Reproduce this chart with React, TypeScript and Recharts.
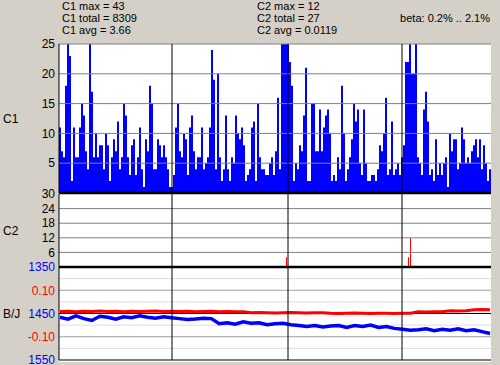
import { Bar, BarChart, Line, LineChart, ReferenceLine, XAxis, YAxis } from "recharts";

// one value per displayed sample column (216 columns across the plot)
const C1 = [
  11, 7, 6, 18, 25, 23, 2, 11, 6, 6, 11, 15, 13, 7, 4, 25, 17, 6, 10, 6,
  8, 8, 4, 10, 8, 2, 6, 9, 7, 12, 4, 6, 15, 13, 6, 3, 8, 9, 3, 6,
  11, 4, 1, 9, 7, 18, 15, 4, 4, 9, 8, 6, 8, 6, 4,
  1, 1, 3, 11, 15, 7, 6, 10, 9, 3, 11, 13, 7, 4, 6, 6, 11, 4, 5, 6,
  11, 24, 19, 4, 20, 6, 2, 4, 13, 4, 2, 6, 5, 13, 10, 9, 11, 8, 2, 3,
  4, 11, 12, 2, 15, 6, 4, 4, 3, 3, 5, 6, 3,
  7, 16, 4, 28, 35, 43, 30, 22, 18, 2, 5, 4, 8, 7, 13, 21, 2, 2, 15, 15,
  7, 7, 14, 7, 11, 13, 14, 10, 2, 3, 2, 6, 4, 18, 10, 2, 4, 6, 9, 15,
  12, 14, 5, 3, 14, 5, 2, 2, 3, 3, 2, 4, 8, 7,
  10, 16, 3, 4, 12, 3, 4, 5, 3, 6, 8, 22, 22, 28, 20, 20, 27, 6, 5, 3,
  14, 17, 12, 3, 4, 2, 9, 3, 5, 3, 5, 6, 1, 10, 7, 9, 9, 4, 5, 11,
  9, 5, 6, 5, 7, 8, 9, 6, 9, 4, 8, 5, 2, 4,
];

// [column, value]
const C2_SPIKES = [
  [113, 4],
  [174, 4],
  [175, 12],
];

const BJ_B = [
  1458, 1462, 1455, 1461, 1465, 1456, 1458, 1462, 1457, 1459,
  1455, 1458, 1460, 1457, 1459, 1461, 1463, 1462, 1460, 1461,
  1472, 1470, 1473, 1468, 1471, 1470, 1474, 1472, 1471, 1474,
  1476, 1478, 1476, 1479, 1477, 1476, 1480, 1476, 1478, 1475,
  1480, 1478, 1482, 1484, 1486, 1485, 1483, 1487, 1484, 1486,
  1483, 1487, 1485, 1489, 1493,
];

const BJ_J = [
  0.009, 0.01, 0.008, 0.01, 0.009, 0.011, 0.009, 0.01, 0.008, 0.01,
  0.009, 0.01, 0.011, 0.009, 0.01, 0.009, 0.01, 0.008, 0.009, 0.01,
  0.008, 0.009, 0.008, 0.008, 0.003, 0.004, 0.003, 0.002, 0.003, 0.004,
  0.003, 0.002, 0.003, 0.003, 0.001, 0.0, 0.001, 0.002, 0.001, 0.0,
  0.001, 0.001, 0.0, 0.001, 0.001, 0.007, 0.006, 0.007, 0.008, 0.012,
  0.011, 0.012, 0.016, 0.017, 0.016,
];

const DAY_MARKS = [56, 114, 171];
const C1_TICKS = [5, 10, 15, 20, 25];
const C2_TICKS = [6, 12, 18, 24, 30];
const B_TICKS = [1350, 1450, 1550];
const B_MINOR = [1375, 1425, 1475, 1525];
const J_TICKS = [0.1, -0.1];

const HEADER_C1 = ["C1 max = 43", "C1 total = 8309", "C1 avg = 3.66"];
const HEADER_C2 = ["C2 max = 12", "C2 total = 27", "C2 avg = 0.0119"];
const BETA = "beta: 0.2% .. 2.1%";

const barData = C1.map((v, k) => ({ k, c1: v, c2: 0 }));
C2_SPIKES.forEach(([k, v]) => {
  barData[k].c2 = v;
});
const lineData = BJ_B.map((b, i) => ({ t: (i * 215) / 54, b, j: BJ_J[i] }));

const FONT = "'Liberation Sans', Arial, sans-serif";
const tickStyle = { fill: "#000", fontSize: 12, fontFamily: FONT };
const labelStyle = { fill: "#000", fontSize: 12, fontFamily: FONT };
const GRID = "#808080";

export default function App() {
  return (
    <div
      style={{
        position: "fixed",
        left: 0,
        top: 0,
        width: 500,
        height: 365,
        background: "#D4D0C8",
        fontFamily: FONT,
      }}
    >
      <div
        style={{
          position: "absolute",
          left: 59,
          top: 44,
          width: 432,
          height: 318,
          background: "#fff",
        }}
      />
      <svg
        width={500}
        height={40}
        style={{ position: "absolute", left: 0, top: 0 }}
        fontFamily={FONT}
        fontSize={11}
      >
        {HEADER_C1.map((s, i) => (
          <text key={s} x={62} y={9.5 + i * 12} fill="#000">
            {s}
          </text>
        ))}
        {HEADER_C2.map((s, i) => (
          <text key={s} x={257} y={9.5 + i * 12} fill="#000">
            {s}
          </text>
        ))}
        <text x={490} y={21.5} fill="#000" textAnchor="end">
          {BETA}
        </text>
      </svg>

      {/* C1 */}
      <div style={{ position: "absolute", left: 0, top: 0 }}>
        <BarChart
          width={500}
          height={200}
          data={barData}
          margin={{ top: 44, right: 9, bottom: 7, left: 0 }}
          barCategoryGap={0}
          barGap={0}
        >
          <XAxis dataKey="k" hide />
          <YAxis
            width={59}
            domain={[0, 25]}
            ticks={C1_TICKS}
            interval={0}
            allowDataOverflow
            tickLine={false}
            tickSize={0}
            tickMargin={4}
            tick={tickStyle}
            axisLine={{ stroke: "#000" }}
            label={{ value: "C1", position: "insideLeft", offset: 3, ...labelStyle }}
          />
          <Bar dataKey="c1" fill="#0000FF" isAnimationActive={false} />
          {C1_TICKS.map((v) => (
            <ReferenceLine key={v} y={v} stroke={GRID} />
          ))}
          {DAY_MARKS.map((k) => (
            <ReferenceLine key={k} x={k} stroke="#000" />
          ))}
          <ReferenceLine y={0} stroke="#000" strokeWidth={2.5} />
        </BarChart>
      </div>

      {/* C2 */}
      <div style={{ position: "absolute", left: 0, top: 180 }}>
        <BarChart
          width={500}
          height={100}
          data={barData}
          margin={{ top: 14, right: 9, bottom: 13, left: 0 }}
          barCategoryGap={0}
          barGap={0}
        >
          <XAxis dataKey="k" hide />
          <YAxis
            width={59}
            domain={[0, 30]}
            ticks={C2_TICKS}
            interval={0}
            allowDataOverflow
            tickLine={false}
            tickSize={0}
            tickMargin={4}
            tick={tickStyle}
            axisLine={{ stroke: "#000" }}
            label={{ value: "C2", position: "insideLeft", offset: 3, ...labelStyle }}
          />
          <Bar dataKey="c2" fill="#FF0000" barSize={1} isAnimationActive={false} />
          {C2_TICKS.slice(0, 4).map((v) => (
            <ReferenceLine key={v} y={v} stroke={GRID} />
          ))}
          {DAY_MARKS.map((k) => (
            <ReferenceLine key={k} x={k} stroke="#000" />
          ))}
          <ReferenceLine y={0} stroke="#000" strokeWidth={2.5} />
        </BarChart>
      </div>

      {/* B/J */}
      <div style={{ position: "absolute", left: 0, top: 260 }}>
        <LineChart
          width={500}
          height={105}
          data={lineData}
          margin={{ top: 7, right: 9, bottom: 5, left: 0 }}
        >
          <XAxis dataKey="t" type="number" domain={[-0.5, 215.5]} hide />
          <YAxis
            yAxisId="b"
            width={59}
            domain={[1350, 1550]}
            reversed
            ticks={B_TICKS}
            interval={0}
            allowDataOverflow
            tickLine={false}
            tickSize={0}
            tickMargin={4}
            tick={{ ...tickStyle, fill: "#0000FF" }}
            axisLine={{ stroke: "#000" }}
            label={{ value: "B/J", position: "insideLeft", offset: 3, ...labelStyle }}
          />
          <YAxis yAxisId="j" domain={[-0.2, 0.2]} hide />
          {B_MINOR.map((v) => (
            <ReferenceLine key={v} yAxisId="b" y={v} stroke="#dcdcdc" />
          ))}
          {J_TICKS.map((v) => (
            <ReferenceLine
              key={v}
              yAxisId="j"
              y={v}
              stroke="#a0a0a0"
              label={{
                value: v.toFixed(2),
                position: "left",
                offset: 4,
                fill: "#FF0000",
                fontSize: 12,
                fontFamily: FONT,
              }}
            />
          ))}
          <ReferenceLine yAxisId="j" y={0} stroke="#000" />
          <ReferenceLine yAxisId="b" y={1550} stroke="#000" />
          <Line
            yAxisId="b"
            dataKey="b"
            stroke="#0000FF"
            strokeWidth={3.5}
            dot={false}
            isAnimationActive={false}
          />
          <Line
            yAxisId="j"
            dataKey="j"
            stroke="#FF0000"
            strokeWidth={3}
            dot={false}
            isAnimationActive={false}
          />
          {DAY_MARKS.map((k) => (
            <ReferenceLine key={k} yAxisId="b" x={k} stroke="#000" />
          ))}
        </LineChart>
      </div>
    </div>
  );
}
